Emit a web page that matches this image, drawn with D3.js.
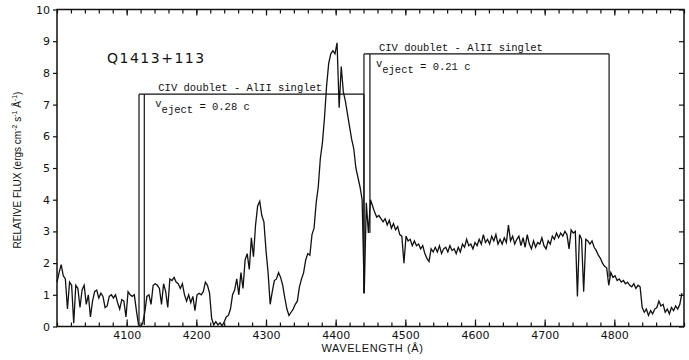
<!DOCTYPE html>
<html>
<head>
<meta charset="utf-8">
<script src="https://cdn.jsdelivr.net/npm/d3@7"></script>
<style>
  body { margin: 0; background: #fff; }
  svg { display: block; }
  .tick text { font-family: "DejaVu Sans", sans-serif; font-size: 11px; fill: #111; }
  .tick line { stroke: #111; stroke-width: 1.2; }
</style>
</head>
<body>
<svg id="chart" width="689" height="360"></svg>
<script>
const WAVE_START = 4000;
const WAVE_STEP = 3;
const flux = [
  1.4, 1.7, 1.95, 1.6, 1.5, 0.55, 1.4, 1.3, 0.1, 1.3,        // 4000
  1.2, 0.6, 1.15, 1.3, 0.7, 1.0, 0.3, 0.8, 1.1, 1.15,        // 4030
  0.9, 1.05, 0.95, 0.6, 0.65, 0.95, 1.0, 0.9, 1.0, 0.75,     // 4060
  0.55, 0.85, 0.8, 0.3, 1.1, 1.0, 0.95, 1.0, 0.5, 0.05,      // 4090
  0.0, 0.1, 0.45, 0.95, 1.0, 0.7, 1.3, 1.35, 1.3, 1.2,       // 4120
  0.7, 1.35, 1.1, 0.6, 1.5, 1.45, 1.55, 1.4, 1.35, 1.2,      // 4150
  1.35, 1.0, 0.8, 1.0, 0.75, 0.95, 0.5, 1.0, 1.05, 1.0,      // 4180
  1.1, 1.4, 1.3, 1.05, 0.25, 0.05, 0.15, 0.05, 0.12, 0.02,   // 4210
  0.15, 0.3, 0.35, 0.55, 1.0, 1.15, 1.5, 1.0, 1.7, 1.2,      // 4240
  2.1, 2.3, 1.8, 2.8, 2.2, 3.2, 3.8, 3.95, 3.5, 3.3,         // 4270
  2.4, 1.7, 0.7, 1.1, 1.45, 1.5, 1.7, 1.55, 1.3, 0.9,        // 4300
  0.55, 0.35, 0.45, 0.55, 0.7, 0.8, 1.25, 1.5, 1.7, 2.1,     // 4330
  2.3, 2.25, 2.9, 3.1, 3.9, 4.4, 5.3, 5.8, 6.6, 7.6,         // 4360
  8.3, 8.6, 8.7, 8.6, 8.95, 6.9, 8.2, 7.4, 7.1, 6.7,         // 4390
  6.3, 5.9, 5.6, 5.0, 4.7, 4.4, 4.0, 1.05, 3.9, 2.95,        // 4420
  4.0, 3.8, 3.6, 3.45, 3.5, 3.4, 3.3, 3.4, 3.2, 3.35,        // 4450
  3.1, 3.25, 3.05, 3.15, 2.9, 2.85, 2.0, 2.85, 2.7, 2.75,    // 4480
  2.55, 2.7, 2.55, 2.6, 2.45, 2.55, 2.3, 2.15, 2.05, 2.45,   // 4510
  2.35, 2.5, 2.35, 2.55, 2.3, 2.45, 2.5, 2.35, 2.55, 2.4,    // 4540
  2.45, 2.3, 2.5, 2.35, 2.6, 2.5, 2.75, 2.55, 2.6, 2.45,     // 4570
  2.65, 2.55, 2.75, 2.6, 2.9, 2.65, 2.75, 2.6, 2.85, 2.7,    // 4600
  2.9, 2.6, 2.75, 2.6, 2.8, 2.65, 3.2, 2.7, 2.85, 2.6,       // 4630
  2.75, 2.85, 2.55, 2.8, 2.5, 2.9, 2.6, 2.45, 2.7, 2.5,      // 4660
  2.65, 2.6, 2.8, 2.55, 2.45, 2.7, 2.6, 2.85, 2.75, 2.95,    // 4690
  2.8, 2.95, 2.85, 3.0, 2.9, 2.45, 3.05, 2.95, 3.0, 0.95,    // 4720
  2.9, 2.75, 1.1, 2.75, 2.7, 2.6, 2.7, 2.5, 2.4, 2.25,       // 4750
  2.15, 2.0, 1.9, 1.85, 1.3, 1.7, 1.55, 1.6, 1.45, 1.5,      // 4780
  1.4, 1.45, 1.35, 1.4, 1.3, 1.25, 1.35, 1.2, 1.3, 1.25,     // 4810
  0.6, 0.45, 0.55, 0.35, 0.5, 0.4, 0.55, 0.6, 0.8, 0.65,     // 4840
  0.7, 0.45, 0.55, 0.4, 0.6, 0.5, 0.65, 0.55, 0.7, 1.05      // 4870
];

const xTickLabels = [4100, 4200, 4300, 4400, 4500, 4600, 4700, 4800];
const yTickLabels = [0, 1, 2, 3, 4, 5, 6, 7, 8, 9, 10];
const objectName = 'Q1413+113';

// absorption systems: CIV doublet and AlIII line positions (A)
const vEject = ['0.28', '0.21'];
const civDoublet = [[4117.7, 4125.3], [4440.6, 4449.2]];
const alIIISinglet = [4440.6, 4792.5];
const bracketTop = [7.33, 8.6];
const civFoot = [[0.05, 0.05], [1.05, 2.95]];
const alIIIFoot = [1.05, 1.57];

const W = 689, H = 360;
const PLOT = { left: 57, right: 684, top: 9.5, bottom: 326.5 };
const MONO = '"Liberation Mono", "DejaVu Sans Mono", monospace';

const svg = d3.select('#chart');

const x = d3.scaleLinear().domain([4000, 4900]).range([PLOT.left, PLOT.right]);
const y = d3.scaleLinear().domain([0, 10]).range([PLOT.bottom, PLOT.top]);

const spectrum = flux.map((f, i) => ({ w: WAVE_START + i * WAVE_STEP, f }));
const minorX = d3.range(4000, 4901, 20);

// axes - ticks point inward except on the left
function noLabels(g) { g.selectAll('text').remove(); g.select('.domain').remove(); }

svg.append('g')
  .attr('transform', `translate(0,${PLOT.bottom})`)
  .call(d3.axisBottom(x).tickValues(minorX).tickSize(-4).tickSizeOuter(0))
  .call(noLabels);
svg.append('g')
  .attr('transform', `translate(0,${PLOT.bottom})`)
  .call(d3.axisBottom(x).tickValues(xTickLabels).tickSize(-7).tickSizeOuter(0).tickPadding(5).tickFormat(d3.format('d')))
  .call(g => g.select('.domain').remove());

svg.append('g')
  .attr('transform', `translate(0,${PLOT.top})`)
  .call(d3.axisTop(x).tickValues(minorX).tickSize(-4).tickSizeOuter(0))
  .call(noLabels);
svg.append('g')
  .attr('transform', `translate(0,${PLOT.top})`)
  .call(d3.axisTop(x).tickValues(xTickLabels).tickSize(-6).tickSizeOuter(0))
  .call(noLabels);

svg.append('g')
  .attr('transform', `translate(${PLOT.left},0)`)
  .call(d3.axisLeft(y).tickValues(yTickLabels).tickSize(4).tickSizeOuter(0).tickPadding(3))
  .call(g => g.select('.domain').remove());

svg.append('g')
  .attr('transform', `translate(${PLOT.right},0)`)
  .call(d3.axisRight(y).tickValues(yTickLabels).tickSize(-5).tickSizeOuter(0))
  .call(noLabels);

// frame
svg.append('rect')
  .attr('x', PLOT.left).attr('y', PLOT.top)
  .attr('width', PLOT.right - PLOT.left).attr('height', PLOT.bottom - PLOT.top)
  .attr('fill', 'none').attr('stroke', '#111').attr('stroke-width', 1.5);

// spectrum
const line = d3.line().x(d => x(d.w)).y(d => y(d.f));
svg.append('path')
  .datum(spectrum)
  .attr('d', line)
  .attr('fill', 'none')
  .attr('stroke', '#111')
  .attr('stroke-width', 1.3)
  .attr('stroke-linejoin', 'miter');

// brackets: CIV doublet - AlIII singlet
const textOffset = [14, 9];
vEject.forEach((v, i) => {
  const g = svg.append('g').attr('stroke', '#111').attr('stroke-width', 1.2).attr('fill', 'none');
  const top = y(bracketTop[i]);
  g.append('line')
    .attr('x1', x(civDoublet[i][0])).attr('x2', x(alIIISinglet[i]))
    .attr('y1', top).attr('y2', top);
  civDoublet[i].forEach((w, j) => {
    g.append('line')
      .attr('x1', x(w)).attr('x2', x(w))
      .attr('y1', top).attr('y2', y(civFoot[i][j]));
  });
  g.append('line')
    .attr('x1', x(alIIISinglet[i])).attr('x2', x(alIIISinglet[i]))
    .attr('y1', top).attr('y2', y(alIIIFoot[i]));

  const tx = x(civDoublet[i][1]) + textOffset[i];
  svg.append('text')
    .attr('x', tx).attr('y', top - 3)
    .attr('font-family', MONO).attr('font-size', 10.5).attr('fill', '#111')
    .text('CIV doublet - AlII singlet');

  const vt = svg.append('text')
    .attr('x', tx - 3).attr('y', top + 16)
    .attr('font-family', MONO).attr('font-size', 10.5).attr('fill', '#111');
  vt.append('tspan').attr('dy', -3).text('v');
  vt.append('tspan').attr('dy', 6).text('eject');
  vt.append('tspan').attr('dy', -3).text(` = ${v} c`);
});

// object name
svg.append('text')
  .attr('x', 107).attr('y', 62.5)
  .attr('font-family', '"DejaVu Sans", sans-serif')
  .attr('font-size', 14).attr('letter-spacing', 1.5).attr('fill', '#111')
  .text(objectName);

// axis titles
svg.append('text')
  .attr('x', (PLOT.left + PLOT.right) / 2 + 2).attr('y', 352)
  .attr('text-anchor', 'middle')
  .attr('font-family', '"Liberation Sans", sans-serif')
  .attr('font-size', 11).attr('letter-spacing', 0.6).attr('fill', '#111')
  .text('WAVELENGTH (Å)');

const yt = svg.append('text')
  .attr('transform', 'translate(21,170) rotate(-90)')
  .attr('text-anchor', 'middle')
  .attr('font-family', '"Liberation Sans Narrow", "Liberation Sans", sans-serif')
  .attr('font-size', 10).attr('fill', '#111');
yt.append('tspan').text('RELATIVE FLUX (ergs cm');
yt.append('tspan').attr('dy', -4).attr('font-size', 7).text('-2');
yt.append('tspan').attr('dy', 4).text(' s');
yt.append('tspan').attr('dy', -4).attr('font-size', 7).text('-1');
yt.append('tspan').attr('dy', 4).text(' Å');
yt.append('tspan').attr('dy', -4).attr('font-size', 7).text('-1');
yt.append('tspan').attr('dy', 4).text(')');
</script>
</body>
</html>
